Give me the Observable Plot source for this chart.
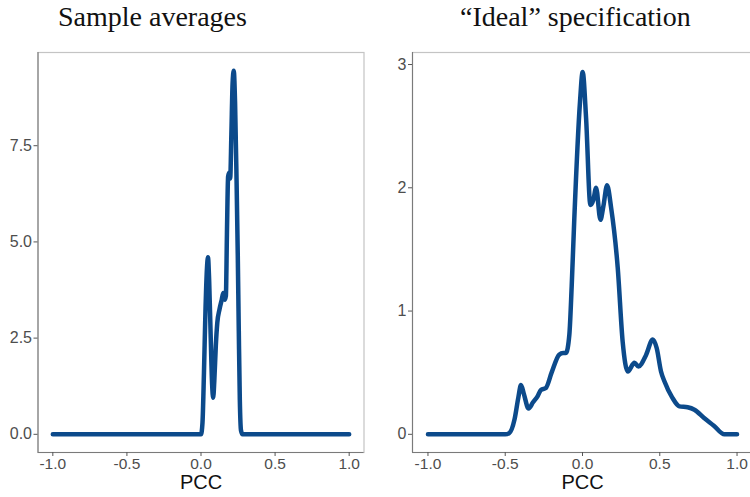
<!DOCTYPE html>
<html>
<head>
<meta charset="utf-8">
<script src="https://cdn.jsdelivr.net/npm/d3@7"></script>
<script src="https://cdn.jsdelivr.net/npm/@observablehq/plot@0.6"></script>
<style>
  html, body { margin: 0; padding: 0; background: #fff; }
  #wrap { position: relative; width: 750px; height: 497px; overflow: hidden; }
  .panel { position: absolute; top: 0; width: 375px; height: 497px; }
  .title { position: absolute; top: 0; height: 40px; font-family: "Liberation Serif", "DejaVu Serif", serif; font-size: 28px; color: #111; white-space: nowrap; line-height: 34px; }
  .panel svg { position: absolute; top: 40px; left: 0; }
</style>
</head>
<body>
<div id="wrap">
  <div class="panel" id="left"><div class="title" style="left:58px">Sample averages</div></div>
  <div class="panel" id="right" style="left:375px"><div class="title" style="left:85px">“Ideal” specification</div></div>
</div>
<script>
// ---- data ----
const leftTitle = "Sample averages";
const rightTitle = "“Ideal” specification";
const xLabel = "PCC";
const xTicks = [-1, -0.5, 0, 0.5, 1];
const leftYTicks = [0, 2.5, 5, 7.5];
const rightYTicks = [0, 1, 2, 3];

const leftX = [-1, -0.5, 0, 0.01, 0.02, 0.03, 0.04, 0.047, 0.055, 0.065, 0.075, 0.082, 0.09, 0.1, 0.11, 0.125, 0.14, 0.15, 0.16, 0.168, 0.175, 0.183, 0.19, 0.197, 0.205, 0.213, 0.221, 0.23, 0.24, 0.248, 0.255, 0.262, 0.27, 0.28, 0.5, 1];
const leftY = [0, 0, 0, 0.3, 1.6, 3.2, 4.3, 4.6, 4.0, 2.6, 1.3, 0.95, 1.4, 2.3, 2.9, 3.25, 3.5, 3.67, 3.5, 3.6, 5.2, 6.7, 6.8, 6.65, 7.8, 9.1, 9.45, 8.6, 6.6, 4.7, 2.7, 0.9, 0.1, 0, 0, 0];

const rightX = [-1, -0.6, -0.5, -0.474, -0.44, -0.415, -0.398, -0.38, -0.349, -0.32, -0.29, -0.269, -0.237, -0.2, -0.151, -0.125, -0.107, -0.085, -0.07, -0.053, -0.016, 0.001, 0.023, 0.051, 0.07, 0.088, 0.116, 0.135, 0.159, 0.185, 0.228, 0.26, 0.293, 0.336, 0.362, 0.41, 0.455, 0.48, 0.508, 0.53, 0.58, 0.627, 0.68, 0.724, 0.789, 0.85, 0.918, 1];
const rightY = [0, 0, 0, 0.01, 0.12, 0.3, 0.40, 0.33, 0.21, 0.26, 0.31, 0.36, 0.376, 0.5, 0.646, 0.66, 0.66, 0.81, 1.2, 1.75, 2.7, 2.94, 2.57, 1.86, 1.9, 2.0, 1.74, 1.85, 2.02, 1.84, 1.35, 0.75, 0.51, 0.58, 0.55, 0.64, 0.77, 0.7, 0.51, 0.43, 0.3, 0.227, 0.22, 0.2, 0.13, 0.07, 0.0, 0];

const lineColor = "#0c4a8b";

function toRows(xs, ys) { return xs.map((x, i) => ({x, y: ys[i]})); }

function panel({rows, yTicks, yFmt, yDomain, xRange, marginLeft}) {
  return Plot.plot({
    width: 375,
    height: 457,
    marginTop: 12,
    marginBottom: 45,
    marginLeft: marginLeft,
    marginRight: 375 - xRange[1],
    style: {fontFamily: "'Liberation Sans', Arial, sans-serif", fontSize: "16px", color: "#4d4d4d", background: "white", overflow: "visible"},
    x: {domain: [-1.1, 1.1], range: xRange},
    y: {domain: yDomain},
    marks: [
      Plot.frame({stroke: "#c4c4c4", strokeWidth: 1.2}),
      Plot.ruleX([-1.1], {stroke: "#7a7a7a", strokeWidth: 1.1}),
      Plot.ruleY([yDomain[0]], {stroke: "#7a7a7a", strokeWidth: 1.1}),
      Plot.axisY({ticks: yTicks, tickFormat: yFmt, tickSize: 4, tickPadding: 2, fontSize: 16, stroke: "#555", label: null}),
      Plot.axisX({ticks: xTicks, tickFormat: d => d.toFixed(1), tickSize: 4, tickPadding: 1, fontSize: 15.5, stroke: "#555", label: null}),
      Plot.text([xLabel], {frameAnchor: "bottom", dy: 36, fontSize: 20, fill: "#111", text: d => d}),
      Plot.line(rows, {x: "x", y: "y", stroke: lineColor, strokeWidth: 4.5, curve: "monotone-x", strokeLinecap: "round", strokeLinejoin: "round"})
    ]
  });
}

const L = panel({rows: toRows(leftX, leftY), yTicks: leftYTicks, yFmt: d => d.toFixed(1), yDomain: [-0.4725, 9.9225], xRange: [37.5, 363.5], marginLeft: 37.5});
const R = panel({rows: toRows(rightX, rightY), yTicks: rightYTicks, yFmt: d => String(d), yDomain: [-0.1475, 3.0975], xRange: [37, 377], marginLeft: 37});
document.getElementById("left").appendChild(L);
document.getElementById("right").appendChild(R);
</script>
</body>
</html>
